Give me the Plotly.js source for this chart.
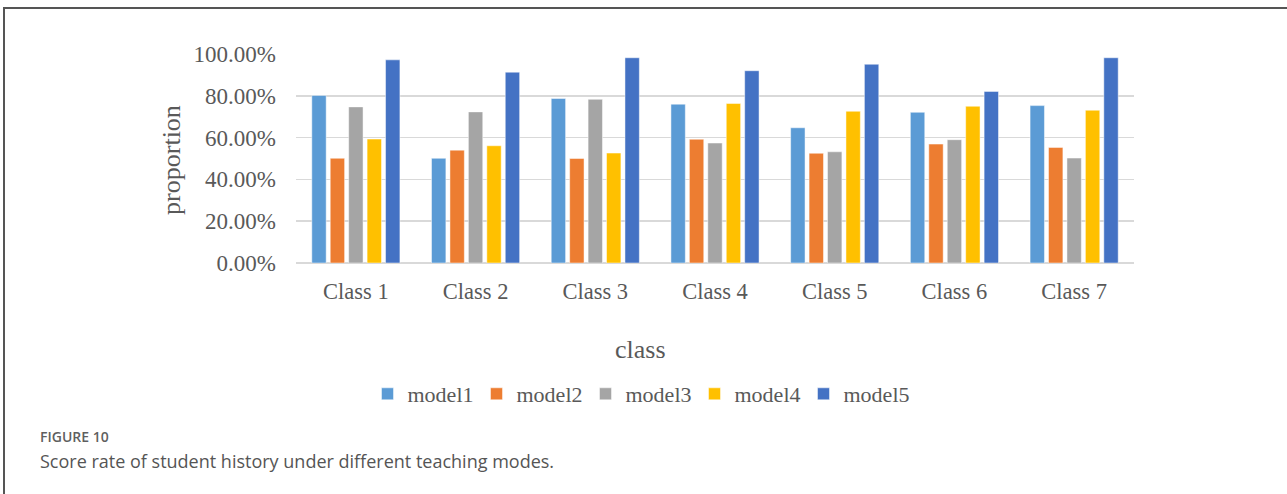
<!DOCTYPE html>
<html>
<head>
<meta charset="utf-8">
<script src="https://cdn.plot.ly/plotly-3.0.1.min.js"></script>
<style>
html,body{margin:0;padding:0;background:#fff;}
#chart{width:1287px;height:494px;}
</style>
</head>
<body>
<div id="chart"></div>
<script>
const categories = ["Class 1","Class 2","Class 3","Class 4","Class 5","Class 6","Class 7"];
const seriesNames = ["model1","model2","model3","model4","model5"];
const model1 = [0.802, 0.501, 0.787, 0.760, 0.647, 0.721, 0.753];
const model2 = [0.501, 0.540, 0.500, 0.592, 0.525, 0.569, 0.553];
const model3 = [0.747, 0.723, 0.783, 0.574, 0.532, 0.590, 0.502];
const model4 = [0.593, 0.561, 0.526, 0.763, 0.726, 0.750, 0.731];
const model5 = [0.972, 0.913, 0.982, 0.920, 0.951, 0.821, 0.982];
const seriesValues = [model1, model2, model3, model4, model5];
const colors = ["#5B9BD5","#ED7D31","#A5A5A5","#FFC000","#4472C4"];

const serif = "Liberation Serif, Times New Roman, serif";
const textColor = "#595959";

const traces = seriesNames.map((name, i) => ({
  type: "bar",
  name: name,
  x: categories,
  y: seriesValues[i],
  marker: {color: colors[i], line: {color: "rgba(255,255,255,0.6)", width: 0.8}},
  hoverinfo: "skip"
}));

// plot area: x 296..1134, y 53.7..263.5
const L = 296, R = 1134, T = 53.7, B = 263.5;
const px = x => (x - L) / (R - L);
const py = y => (B - y) / (B - T);

const layout = {
  width: 1287, height: 494,
  margin: {l: L, r: 1287 - R, t: T, b: 494 - B, pad: 0},
  paper_bgcolor: "#fff", plot_bgcolor: "#fff",
  barmode: "group", bargap: 0.23, bargroupgap: 0.22,
  showlegend: true,
  legend: {
    orientation: "h", xref: "paper", yref: "paper",
    x: px(640), xanchor: "center", y: py(395), yanchor: "middle",
    font: {family: serif, size: 22, color: textColor},
    entrywidth: 64, entrywidthmode: "pixels",
    itemwidth: 30, tracegroupgap: 0
  },
  xaxis: {
    type: "category",
    tickfont: {family: serif, size: 22.5, color: textColor},
    showgrid: false, showline: false, zeroline: false,
    ticks: "", ticklabelstandoff: 12
  },
  yaxis: {
    range: [0, 1.0], dtick: 0.2, tick0: 0, tickformat: ".2%",
    tickfont: {family: serif, size: 23, color: textColor},
    showgrid: true, gridcolor: "#d9d9d9", gridwidth: 1.5,
    zeroline: true, zerolinecolor: "#d9d9d9", zerolinewidth: 2,
    showline: false, ticks: "", ticklabelstandoff: 19
  },
  annotations: [
    {text: "proportion", xref: "paper", yref: "paper", x: px(172), y: py(160),
     xanchor: "center", yanchor: "middle", textangle: -90, showarrow: false,
     font: {family: serif, size: 26, color: textColor}},
    {text: "class", xref: "paper", yref: "paper", x: px(640), y: py(350),
     xanchor: "center", yanchor: "middle", showarrow: false,
     font: {family: serif, size: 26, color: textColor}},
    {text: "FIGURE 10", xref: "paper", yref: "paper", x: px(38), y: py(438),
     xanchor: "left", yanchor: "middle", showarrow: false,
     font: {family: "Open Sans, sans-serif", size: 14, color: "#5f5f5f", weight: 600}},
    {text: "Score rate of student history under different teaching modes.", xref: "paper", yref: "paper", x: px(38), y: py(462),
     xanchor: "left", yanchor: "middle", showarrow: false,
     font: {family: "Open Sans, sans-serif", size: 18, color: "#555555"}}
  ],
  shapes: [
    {type: "line", xref: "paper", yref: "paper", x0: px(3), x1: px(1290), y0: py(7.5), y1: py(7.5),
     line: {color: "#555555", width: 2}},
    {type: "line", xref: "paper", yref: "paper", x0: px(4), x1: px(4), y0: py(6.5), y1: py(500),
     line: {color: "#555555", width: 2}}
  ]
};

Plotly.newPlot("chart", traces, layout, {displayModeBar: false, staticPlot: true});
</script>
</body>
</html>
